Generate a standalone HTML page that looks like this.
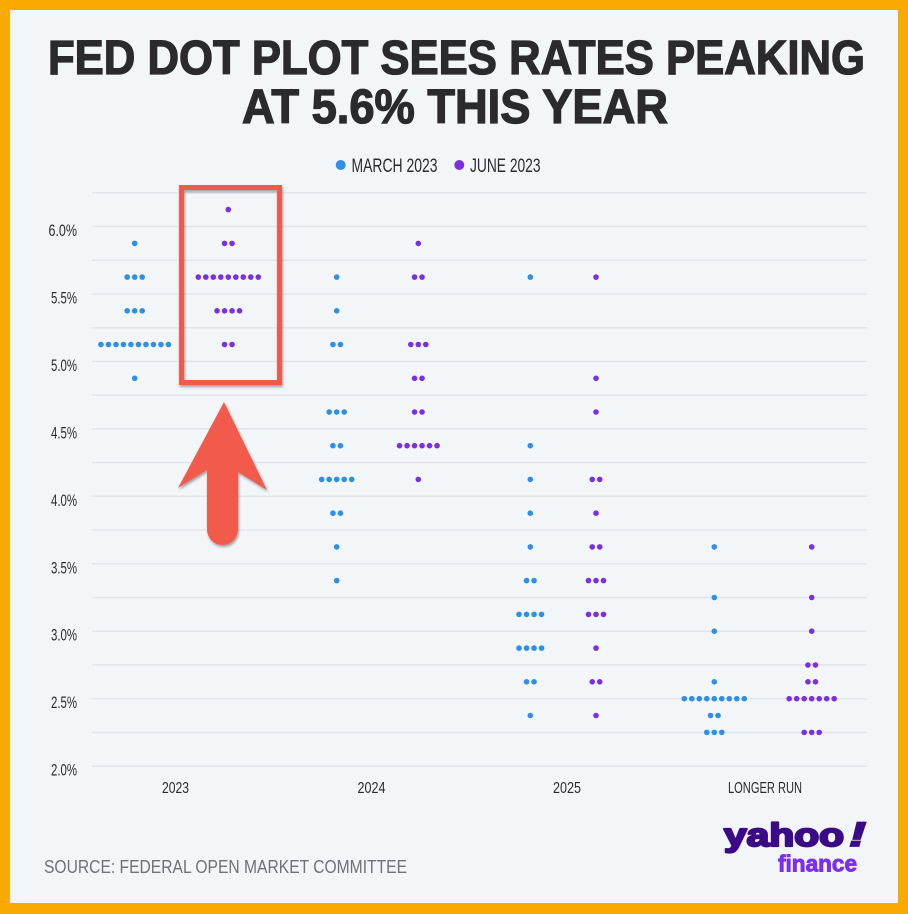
<!DOCTYPE html>
<html>
<head>
<meta charset="utf-8">
<style>
html,body{margin:0;padding:0;background:#f9aa00;}
svg{display:block;}
text{font-family:"Liberation Sans", sans-serif;}
</style>
</head>
<body>
<svg width="908" height="914" viewBox="0 0 908 914" xmlns="http://www.w3.org/2000/svg">
<defs>
  <filter id="sh" x="-20%" y="-20%" width="140%" height="140%">
    <feDropShadow dx="1" dy="2" stdDeviation="1.2" flood-color="#000" flood-opacity="0.35"/>
  </filter>
  <g id="d1"><circle r="2.8"/></g>
  <g id="d2"><circle cx="-3.75" r="2.8"/><circle cx="3.75" r="2.8"/></g>
  <g id="d3"><circle cx="-7.5" r="2.8"/><circle cx="0" r="2.8"/><circle cx="7.5" r="2.8"/></g>
  <g id="d4"><circle cx="-11.25" r="2.8"/><circle cx="-3.75" r="2.8"/><circle cx="3.75" r="2.8"/><circle cx="11.25" r="2.8"/></g>
  <g id="d5"><circle cx="-15" r="2.8"/><circle cx="-7.5" r="2.8"/><circle cx="0" r="2.8"/><circle cx="7.5" r="2.8"/><circle cx="15" r="2.8"/></g>
  <g id="d6"><circle cx="-18.75" r="2.8"/><circle cx="-11.25" r="2.8"/><circle cx="-3.75" r="2.8"/><circle cx="3.75" r="2.8"/><circle cx="11.25" r="2.8"/><circle cx="18.75" r="2.8"/></g>
  <g id="d7"><circle cx="-22.5" r="2.8"/><circle cx="-15" r="2.8"/><circle cx="-7.5" r="2.8"/><circle cx="0" r="2.8"/><circle cx="7.5" r="2.8"/><circle cx="15" r="2.8"/><circle cx="22.5" r="2.8"/></g>
  <g id="d9"><circle cx="-30" r="2.8"/><circle cx="-22.5" r="2.8"/><circle cx="-15" r="2.8"/><circle cx="-7.5" r="2.8"/><circle cx="0" r="2.8"/><circle cx="7.5" r="2.8"/><circle cx="15" r="2.8"/><circle cx="22.5" r="2.8"/><circle cx="30" r="2.8"/></g>
  <g id="d10"><circle cx="-33.75" r="2.8"/><circle cx="-26.25" r="2.8"/><circle cx="-18.75" r="2.8"/><circle cx="-11.25" r="2.8"/><circle cx="-3.75" r="2.8"/><circle cx="3.75" r="2.8"/><circle cx="11.25" r="2.8"/><circle cx="18.75" r="2.8"/><circle cx="26.25" r="2.8"/><circle cx="33.75" r="2.8"/></g>
</defs>

<rect width="908" height="914" fill="#f9aa00"/>
<rect x="10" y="10" width="888" height="893" fill="#f3f6f9"/>

<!-- Title -->
<text x="456.5" y="74" font-size="48" font-weight="bold" fill="#2b2b2e" stroke="#2b2b2e" stroke-width="1.3" text-anchor="middle" textLength="817" lengthAdjust="spacingAndGlyphs">FED DOT PLOT SEES RATES PEAKING</text>
<text x="455" y="123" font-size="48" font-weight="bold" fill="#2b2b2e" stroke="#2b2b2e" stroke-width="1.3" text-anchor="middle" textLength="426" lengthAdjust="spacingAndGlyphs">AT 5.6% THIS YEAR</text>

<!-- Legend -->
<circle cx="340.7" cy="165" r="5" fill="#2d8fe8"/>
<text x="351.5" y="172" font-size="19" fill="#2b2b2e" textLength="86" lengthAdjust="spacingAndGlyphs">MARCH 2023</text>
<circle cx="459.3" cy="165" r="5" fill="#7b2fe3"/>
<text x="470" y="172" font-size="19" fill="#2b2b2e" textLength="70.5" lengthAdjust="spacingAndGlyphs">JUNE 2023</text>

<!-- Gridlines -->
<g stroke="#e1e5ea" stroke-width="1.5">
  <line x1="92" x2="867" y1="192.8" y2="192.8"/>
  <line x1="92" x2="867" y1="226.5" y2="226.5"/>
  <line x1="92" x2="867" y1="260.2" y2="260.2"/>
  <line x1="92" x2="867" y1="294" y2="294"/>
  <line x1="92" x2="867" y1="327.7" y2="327.7"/>
  <line x1="92" x2="867" y1="361.4" y2="361.4"/>
  <line x1="92" x2="867" y1="395.1" y2="395.1"/>
  <line x1="92" x2="867" y1="428.9" y2="428.9"/>
  <line x1="92" x2="867" y1="462.6" y2="462.6"/>
  <line x1="92" x2="867" y1="496.3" y2="496.3"/>
  <line x1="92" x2="867" y1="530" y2="530"/>
  <line x1="92" x2="867" y1="563.8" y2="563.8"/>
  <line x1="92" x2="867" y1="597.5" y2="597.5"/>
  <line x1="92" x2="867" y1="631.2" y2="631.2"/>
  <line x1="92" x2="867" y1="664.9" y2="664.9"/>
  <line x1="92" x2="867" y1="698.7" y2="698.7"/>
  <line x1="92" x2="867" y1="732.4" y2="732.4"/>
  <line x1="92" x2="867" y1="766.1" y2="766.1"/>
</g>

<!-- Y labels -->
<g font-size="16.5" fill="#2b2b2e" text-anchor="end">
  <text x="77" y="236" textLength="28.5" lengthAdjust="spacingAndGlyphs">6.0%</text>
  <text x="77" y="303.5" textLength="26" lengthAdjust="spacingAndGlyphs">5.5%</text>
  <text x="77" y="371" textLength="26" lengthAdjust="spacingAndGlyphs">5.0%</text>
  <text x="77" y="438.4" textLength="26" lengthAdjust="spacingAndGlyphs">4.5%</text>
  <text x="77" y="505.8" textLength="26" lengthAdjust="spacingAndGlyphs">4.0%</text>
  <text x="77" y="573.3" textLength="26" lengthAdjust="spacingAndGlyphs">3.5%</text>
  <text x="77" y="640.7" textLength="26" lengthAdjust="spacingAndGlyphs">3.0%</text>
  <text x="77" y="708.2" textLength="26" lengthAdjust="spacingAndGlyphs">2.5%</text>
  <text x="77" y="775.6" textLength="26" lengthAdjust="spacingAndGlyphs">2.0%</text>
</g>

<!-- X labels -->
<g font-size="16" fill="#2b2b2e" text-anchor="middle">
  <text x="175.5" y="793" textLength="27" lengthAdjust="spacingAndGlyphs">2023</text>
  <text x="371.5" y="793" textLength="28" lengthAdjust="spacingAndGlyphs">2024</text>
  <text x="567" y="793" textLength="28" lengthAdjust="spacingAndGlyphs">2025</text>
  <text x="765" y="793" textLength="74" lengthAdjust="spacingAndGlyphs">LONGER RUN</text>
</g>

<!-- March 2023 dots (blue) -->
<g fill="#2d8fe8">
  <use href="#d1" x="134.7" y="243.4"/>
  <use href="#d3" x="134.7" y="277.1"/>
  <use href="#d3" x="134.7" y="310.8"/>
  <use href="#d10" x="134.7" y="344.5"/>
  <use href="#d1" x="134.7" y="378.3"/>
  <use href="#d1" x="336.7" y="277.1"/>
  <use href="#d1" x="336.7" y="310.8"/>
  <use href="#d2" x="336.7" y="344.5"/>
  <use href="#d3" x="336.7" y="412"/>
  <use href="#d2" x="336.7" y="445.7"/>
  <use href="#d5" x="336.7" y="479.4"/>
  <use href="#d2" x="336.7" y="513.2"/>
  <use href="#d1" x="336.7" y="546.9"/>
  <use href="#d1" x="336.7" y="580.6"/>
  <use href="#d1" x="530.3" y="277.1"/>
  <use href="#d1" x="530.3" y="445.7"/>
  <use href="#d1" x="530.3" y="479.4"/>
  <use href="#d1" x="530.3" y="513.2"/>
  <use href="#d1" x="530.3" y="546.9"/>
  <use href="#d2" x="530.3" y="580.6"/>
  <use href="#d4" x="530.3" y="614.4"/>
  <use href="#d4" x="530.3" y="648.1"/>
  <use href="#d2" x="530.3" y="681.8"/>
  <use href="#d1" x="530.3" y="715.5"/>
  <use href="#d1" x="714.3" y="546.9"/>
  <use href="#d1" x="714.3" y="597.5"/>
  <use href="#d1" x="714.3" y="631.2"/>
  <use href="#d1" x="714.3" y="681.8"/>
  <use href="#d9" x="714.3" y="698.7"/>
  <use href="#d2" x="714.3" y="715.5"/>
  <use href="#d3" x="714.3" y="732.4"/>
</g>

<!-- June 2023 dots (purple) -->
<g fill="#7b2fe3">
  <use href="#d1" x="228.3" y="209.6"/>
  <use href="#d2" x="228.3" y="243.4"/>
  <use href="#d9" x="228.3" y="277.1"/>
  <use href="#d4" x="228.3" y="310.8"/>
  <use href="#d2" x="228.3" y="344.5"/>
  <use href="#d1" x="418.3" y="243.4"/>
  <use href="#d2" x="418.3" y="277.1"/>
  <use href="#d3" x="418.3" y="344.5"/>
  <use href="#d2" x="418.3" y="378.3"/>
  <use href="#d2" x="418.3" y="412"/>
  <use href="#d6" x="418.3" y="445.7"/>
  <use href="#d1" x="418.3" y="479.4"/>
  <use href="#d1" x="596" y="277.1"/>
  <use href="#d1" x="596" y="378.3"/>
  <use href="#d1" x="596" y="412"/>
  <use href="#d2" x="596" y="479.4"/>
  <use href="#d1" x="596" y="513.2"/>
  <use href="#d2" x="596" y="546.9"/>
  <use href="#d3" x="596" y="580.6"/>
  <use href="#d3" x="596" y="614.4"/>
  <use href="#d1" x="596" y="648.1"/>
  <use href="#d2" x="596" y="681.8"/>
  <use href="#d1" x="596" y="715.5"/>
  <use href="#d1" x="811.7" y="546.9"/>
  <use href="#d1" x="811.7" y="597.5"/>
  <use href="#d1" x="811.7" y="631.2"/>
  <use href="#d2" x="811.7" y="665"/>
  <use href="#d2" x="811.7" y="681.8"/>
  <use href="#d7" x="811.7" y="698.7"/>
  <use href="#d3" x="811.7" y="732.4"/>
</g>

<!-- Highlight box -->
<rect x="181.5" y="187.5" width="98" height="195" fill="none" stroke="#ef5a4c" stroke-width="5" filter="url(#sh)"/>

<!-- Arrow -->
<path d="M224,402 L267,490 L238,472 L238,529.5 A15.5,15.5 0 0 1 207,529.5 L207,470 L178,488 Z" fill="#f25a4c" filter="url(#sh)"/>

<!-- Source -->
<text x="44" y="873" font-size="18" fill="#6e7175" textLength="363" lengthAdjust="spacingAndGlyphs">SOURCE: FEDERAL OPEN MARKET COMMITTEE</text>

<!-- yahoo finance logo -->
<text x="724" y="846" font-size="32" font-weight="bold" fill="#3b0a86" stroke="#3b0a86" stroke-width="2.2" stroke-linejoin="round" textLength="120" lengthAdjust="spacingAndGlyphs">yahoo</text>
<text x="849" y="846" font-size="34" font-weight="bold" font-style="italic" fill="#3b0a86" stroke="#3b0a86" stroke-width="1.8" textLength="17" lengthAdjust="spacingAndGlyphs">!</text>
<text x="778" y="871.5" font-size="23" font-weight="bold" fill="#7b2ff0" stroke="#7b2ff0" stroke-width="0.9" textLength="79" lengthAdjust="spacingAndGlyphs">finance</text>
</svg>
</body>
</html>
